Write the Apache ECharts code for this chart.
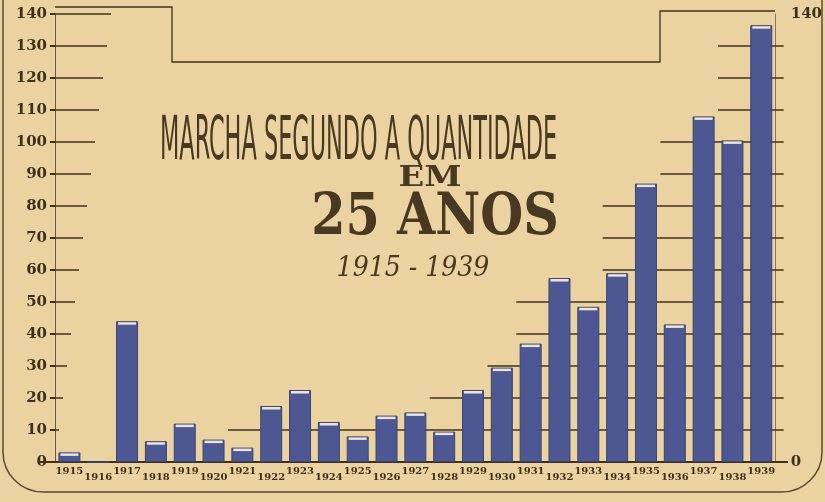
<!DOCTYPE html>
<html lang="pt">
<head>
<meta charset="UTF-8">
<title>Marcha segundo a quantidade</title>
<script src="https://cdn.jsdelivr.net/npm/echarts@6.0.0/dist/echarts.min.js"></script>
<style>
html, body { margin: 0; padding: 0; background: #ead3a1; }
</style>
</head>
<body>
<div id="main" style="width: 825px;height:502px;"></div>
<script type="text/javascript">
// data
const years = ['1915', '1916', '1917', '1918', '1919', '1920', '1921', '1922', '1923', '1924',
  '1925', '1926', '1927', '1928', '1929', '1930', '1931', '1932', '1933', '1934',
  '1935', '1936', '1937', '1938', '1939'];
const quantities = [3, 0, 44, 6.5, 12, 7, 4.5, 17.5, 22.5, 12.5,
  8, 14.5, 15.5, 9.5, 22.5, 29.5, 37, 57.5, 48.5, 59,
  87, 43, 108, 100.5, 136.5];
const yTicks = [10, 20, 30, 40, 50, 60, 70, 80, 90, 100, 110, 120, 130, 140];

const ink = '#3f301c';
const barBlue = '#4d5893';

// where a guide line at a given level starts (staircase from the right)
function guideStart(level) {
  let start = -1;
  for (let i = quantities.length - 1; i >= 0; i--) {
    const next = i + 1 < quantities.length ? quantities[i + 1] : 0;
    if (Math.max(quantities[i], next) >= level) start = i;
    else break;
  }
  return start;
}

let myChart = echarts.init(document.getElementById('main'));

let options = {
  backgroundColor: '#ead3a1',
  animation: false,
  grid: { left: 55, right: 49, top: 14, bottom: 40 },
  xAxis: {
    type: 'category',
    data: years,
    axisLine: { lineStyle: { color: ink, width: 2 } },
    axisTick: { show: false },
    axisLabel: {
      interval: 0,
      margin: 4,
      formatter: (v, i) => (i % 2 === 0 ? '{up|' + v + '}' : '{dn|' + v + '}'),
      rich: {
        up: { fontFamily: 'DejaVu Serif', fontWeight: 'bold', fontSize: 10, color: ink, padding: [0, 0, 4, 0] },
        dn: { fontFamily: 'DejaVu Serif', fontWeight: 'bold', fontSize: 10, color: ink, padding: [6, 0, 0, 0] }
      }
    }
  },
  yAxis: [{
    type: 'value',
    min: 0, max: 140, interval: 10,
    axisLine: { show: true, lineStyle: { color: '#6b5838', width: 1 } },
    axisTick: { show: true, length: 5, lineStyle: { color: ink, width: 2 } },
    axisLabel: { fontFamily: 'DejaVu Serif', fontWeight: 'bold', fontSize: 15, color: ink, margin: 8 },
    splitLine: { show: false }
  }, {
    type: 'value',
    position: 'right',
    min: 0, max: 140, interval: 140,
    axisLine: { show: true, lineStyle: { color: '#8c7a55', width: 1 } },
    axisTick: { show: false },
    axisLabel: { fontFamily: 'DejaVu Serif', fontWeight: 'bold', fontSize: 15, color: ink, margin: 15 },
    splitLine: { show: false }
  }],
  series: [{
    name: 'guias',
    type: 'custom',
    z: 1,
    silent: true,
    data: yTicks.map(l => [0, l]),
    renderItem: function (params, api) {
      const level = api.value(1);
      const slot = api.size([1, 0])[0];
      const y = api.coord([0, level])[1];
      const left = api.coord([0, level])[0] - slot / 2;
      const right = api.coord([quantities.length - 1, level])[0] + slot / 2;
      const children = [{
        type: 'line',
        shape: { x1: left, y1: y, x2: left + level * 0.4, y2: y },
        style: { stroke: ink, lineWidth: 1.5 }
      }];
      const s = guideStart(level);
      if (s >= 0) {
        const x1 = api.coord([s, level])[0] - slot / 2;
        children.push({
          type: 'line',
          shape: { x1: x1, y1: y, x2: right + 8, y2: y },
          style: { stroke: ink, lineWidth: 1.5 }
        });
      }
      return { type: 'group', children: children };
    }
  }, {
    name: 'quantidade',
    type: 'bar',
    z: 3,
    barWidth: 22,
    data: quantities,
    itemStyle: { color: barBlue, borderColor: '#3b4478', borderWidth: 1 }
  }, {
    name: 'topo',
    type: 'pictorialBar',
    z: 4,
    symbol: 'rect',
    symbolSize: [18, 2.5],
    symbolPosition: 'end',
    symbolOffset: [0, 1],
    data: quantities.map(v => (v > 0 ? v : '-')),
    itemStyle: { color: '#ece6d6' }
  }],
  graphic: [
    // stepped frame on top
    { type: 'polyline', shape: { points: [[55, 7], [172, 7], [172, 62], [660, 62], [660, 11], [775, 11]] },
      style: { stroke: ink, lineWidth: 1.3, fill: null } },
    // border of the plate
    { type: 'rect', shape: { x: 3, y: -20, width: 819, height: 512, r: [0, 0, 40, 40] },
      style: { stroke: '#5a4a30', lineWidth: 1.5, fill: null } },
    // baseline extensions
    { type: 'line', shape: { x1: 38, y1: 462, x2: 55, y2: 462 }, style: { stroke: ink, lineWidth: 2 } },
    { type: 'line', shape: { x1: 776, y1: 462, x2: 788, y2: 462 }, style: { stroke: ink, lineWidth: 2 } },
    // titles
    { type: 'text', x: 160, y: 113, scaleX: 0.415,
      style: { text: 'MARCHA SEGUNDO A QUANTIDADE', font: '60px "Liberation Sans Narrow", "DejaVu Sans Condensed", sans-serif', fill: '#4a3922' } },
    { type: 'text', x: 430, y: 165, scaleX: 1.25,
      style: { text: 'EM', font: 'bold 27px "DejaVu Serif"', fill: '#4a3922', textAlign: 'center' } },
    { type: 'text', x: 435, y: 190, scaleX: 0.85,
      style: { text: '25 ANOS', font: 'bold 58px "DejaVu Serif"', fill: '#4a3922', textAlign: 'center' } },
    { type: 'text', x: 413, y: 255, scaleX: 0.9,
      style: { text: '1915 - 1939', font: 'italic 28px "DejaVu Serif"', fill: '#4a3922', textAlign: 'center' } }
  ]
};

myChart.setOption(options);
</script>
</body>
</html>
